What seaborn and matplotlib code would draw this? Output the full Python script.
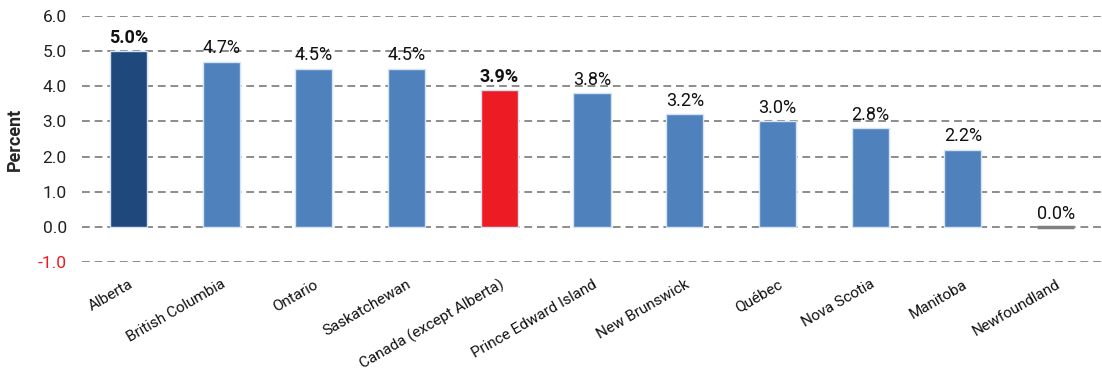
import matplotlib
matplotlib.use("Agg")
import matplotlib.pyplot as plt
import seaborn as sns
import pandas as pd

# Growth by province
provinces = ["Alberta", "British Columbia", "Ontario", "Saskatchewan",
             "Canada (except Alberta)", "Prince Edward Island", "New Brunswick",
             "Québec", "Nova Scotia", "Manitoba", "Newfoundland"]
growth = [5.0, 4.7, 4.5, 4.5, 3.9, 3.8, 3.2, 3.0, 2.8, 2.2, 0.0]
bar_colors = ["#1F497D", "#4F81BD", "#4F81BD", "#4F81BD", "#ED1C24", "#4F81BD",
              "#4F81BD", "#4F81BD", "#4F81BD", "#4F81BD", "#808080"]
bold_labels = ["Alberta", "Canada (except Alberta)"]
y_ticks = [-1.0, 0.0, 1.0, 2.0, 3.0, 4.0, 5.0, 6.0]

df = pd.DataFrame({"province": provinces, "growth": growth})

sns.set_theme(style="white")
plt.rcParams["font.family"] = ["Roboto", "DejaVu Sans"]

fig = plt.figure(figsize=(11.02, 3.71), dpi=100)
ax = fig.add_axes([0.0744, 0.2938, 0.9256, 0.6631])

sns.barplot(data=df, x="province", y="growth", hue="province",
            palette=dict(zip(provinces, bar_colors)), legend=False, saturation=1,
            width=0.4, edgecolor="#D6E3F3", linewidth=1.0, ax=ax, zorder=3)

# zero-height bar shown as a thin grey sliver
for patch, val, col in zip(ax.patches, growth, bar_colors):
    if val == 0:
        patch.set_edgecolor(col)
        patch.set_linewidth(2.5)

ax.set_ylim(-1, 6)
ax.set_xlim(-0.5, 10.5)
ax.set_yticks(y_ticks)
ax.set_yticklabels([f"{t:.1f}" for t in y_ticks], fontsize=12.5)
for lbl, t in zip(ax.get_yticklabels(), y_ticks):
    lbl.set_color("#ED1C24" if t < 0 else "#222222")
ax.tick_params(axis="y", length=0, pad=11)
ax.tick_params(axis="x", length=0, pad=11)

ax.set_xticks(range(len(provinces)))
ax.set_xticklabels(provinces, rotation=30, ha="right", rotation_mode="anchor",
                   fontsize=11, color="#111111")
ax.set_xlabel("")
ax.set_ylabel("Percent", fontsize=13, fontweight="bold", labelpad=10)

for y in y_ticks:
    ax.axhline(y, color="#8C8C8C", linestyle=(0, (4, 2.5)), linewidth=1.4, zorder=1)

for s in ax.spines.values():
    s.set_visible(False)

for i, (p, v) in enumerate(zip(provinces, growth)):
    ax.text(i, max(v, 0) + 0.12, f"{v:.1f}%", ha="center", va="bottom",
            fontsize=13, color="#111111",
            fontweight="bold" if p in bold_labels else "normal")

fig.savefig("out.png", dpi=100)
